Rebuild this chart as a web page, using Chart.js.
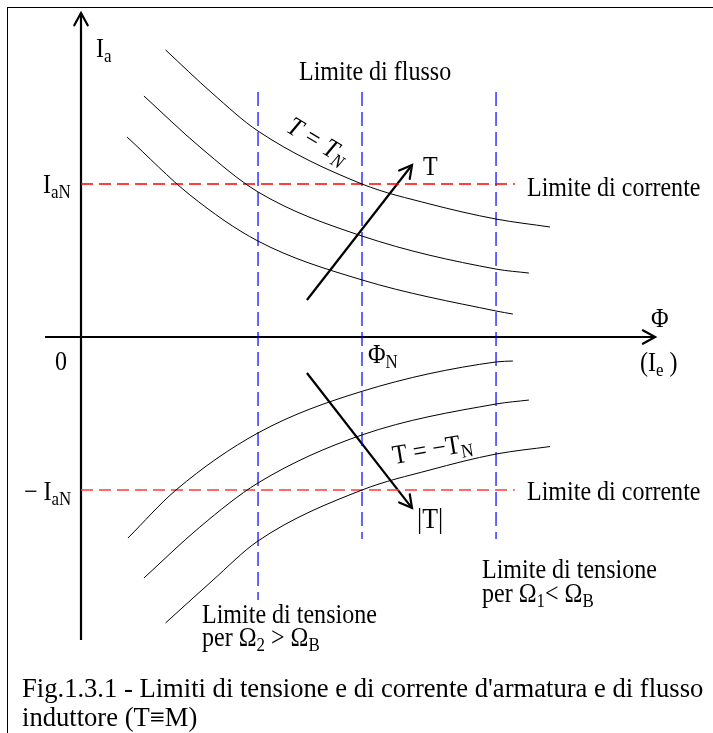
<!DOCTYPE html>
<html>
<head>
<meta charset="utf-8">
<title>Limiti di tensione e di corrente</title>
<script src="https://cdn.jsdelivr.net/npm/chart.js@4.4.1/dist/chart.umd.min.js"></script>
<style>
  html, body { margin: 0; padding: 0; background: #fff; }
  #wrap { position: relative; width: 713px; height: 733px; overflow: hidden; }
  #frame { position: absolute; left: 7px; top: 7px; width: 760px; height: 760px;
           border-left: 1px solid #000; border-top: 1px solid #000; }
  #chart { position: absolute; left: 0; top: 0; }
  #caption { position: absolute; left: 22px; top: 674px; font: 27px "Liberation Serif", serif;
             line-height: 29px; color: #000; white-space: nowrap;
             transform: scaleX(0.985); transform-origin: 0 0; }
</style>
</head>
<body>
<div id="wrap">
  <div id="frame"></div>
  <canvas id="chart" width="713" height="733"></canvas>
  <div id="caption">Fig.1.3.1 - Limiti di tensione e di corrente d'armatura e di flusso<br>induttore (T&#8801;M)</div>
</div>
<script>
// Per-unit quantities: flux Φ/Φ_N on x, armature current I_a/I_aN on y

// constant torque curves, motoring side (top one is T = T_N)
const tnPhi   = [0.301, 0.466, 0.630, 1.000, 1.242, 1.477, 1.669];
const tnIa    = [1.876, 1.595, 1.346, 1.000, 0.869, 0.771, 0.719];
const t2Phi   = [0.224, 0.423, 0.630, 1.000, 1.477, 1.594];
const t2Ia    = [1.575, 1.242, 0.948, 0.660, 0.444, 0.418];
const t3Phi   = [0.164, 0.388, 0.630, 1.000, 1.477, 1.537];
const t3Ia    = [1.307, 0.928, 0.627, 0.373, 0.170, 0.150];

// constant torque curves, braking side (bottom one is T = -T_N)
const b3Phi   = [0.167, 0.338, 0.630, 1.000, 1.477, 1.537];
const b3Ia    = [-1.314, -1.000, -0.627, -0.355, -0.163, -0.157];
const b2Phi   = [0.224, 0.423, 0.630, 1.000, 1.477, 1.594];
const b2Ia    = [-1.575, -1.242, -0.954, -0.640, -0.438, -0.412];
const bnPhi   = [0.301, 0.466, 0.630, 1.000, 1.242, 1.477, 1.669];
const bnIa    = [-1.869, -1.595, -1.333, -1.000, -0.869, -0.765, -0.716];

// current limits ±I_aN
const currentLimits = [1, -1];
const currentLimitPhi = [0, 1.544];

// vertical limits: Ω2 > ΩB, flux limit Φ_N, Ω1 < ΩB
const voltageLimitPhi = [0.630, 1.000, 1.477];
const voltageLimitTop = [1.601, 1.601, 1.601];
const voltageLimitBottom = [-1.719, -1.320, -1.320];

// axes extents
const axisPhi = [-0.128, 2.043];
const axisIa = [-1.980, 2.118];

// torque direction arrows [from, to]
const arrowUpPhi = [0.804, 1.178];
const arrowUpIa = [0.242, 1.124];
const arrowDownPhi = [0.804, 1.178];
const arrowDownIa = [-0.235, -1.118];

const SQUEEZE = 0.89;
const BASE = 27;
const SUB = 19;

const pts = (xs, ys) => xs.map((x, i) => ({ x: x, y: ys[i] }));

function curve(xs, ys) {
    return {
        data: pts(xs, ys), showLine: true, borderColor: '#000', borderWidth: 1,
        pointRadius: 0, cubicInterpolationMode: 'monotone', fill: false
    };
}

function straight(data, color, width, dash, arrow) {
    return {
        data: data, showLine: true, borderColor: color, borderWidth: width,
        borderDash: dash || [], pointRadius: 0, tension: 0, fill: false,
        arrowHead: !!arrow
    };
}

const datasets = [];
[[tnPhi, tnIa], [t2Phi, t2Ia], [t3Phi, t3Ia], [b3Phi, b3Ia], [b2Phi, b2Ia], [bnPhi, bnIa]]
    .forEach(c => datasets.push(curve(c[0], c[1])));

currentLimits.forEach((ia, i) => {
    datasets.push(straight(currentLimitPhi.map(p => ({ x: p, y: ia })),
        i === 0 ? '#ff0000' : '#ff3a3a', 1.4, [12, 6]));
});

voltageLimitPhi.forEach((p, i) => {
    datasets.push(straight([{ x: p, y: voltageLimitTop[i] }, { x: p, y: voltageLimitBottom[i] }],
        '#0000ff', 1.2, [14, 6]));
});

datasets.push(straight([{ x: axisPhi[0], y: 0 }, { x: axisPhi[1], y: 0 }], '#000', 2.2, null, true));
datasets.push(straight([{ x: 0, y: axisIa[0] }, { x: 0, y: axisIa[1] }], '#000', 2.2, null, true));
datasets.push(straight(pts(arrowUpPhi, arrowUpIa), '#000', 2.2, null, true));
datasets.push(straight(pts(arrowDownPhi, arrowDownIa), '#000', 2.2, null, true));

// open V arrowheads at the end of flagged lines
const arrowHeads = {
    id: 'arrowHeads',
    afterDatasetsDraw(chart) {
        const ctx = chart.ctx;
        chart.data.datasets.forEach((ds, i) => {
            if (!ds.arrowHead) return;
            const els = chart.getDatasetMeta(i).data;
            const a = els[els.length - 2], b = els[els.length - 1];
            const ang = Math.atan2(b.y - a.y, b.x - a.x);
            const len = 14, spread = 0.5;
            ctx.save();
            ctx.strokeStyle = '#000';
            ctx.lineWidth = 2.2;
            ctx.lineCap = 'round';
            ctx.beginPath();
            ctx.moveTo(b.x - len * Math.cos(ang - spread), b.y - len * Math.sin(ang - spread));
            ctx.lineTo(b.x, b.y);
            ctx.lineTo(b.x - len * Math.cos(ang + spread), b.y - len * Math.sin(ang + spread));
            ctx.stroke();
            ctx.restore();
        });
    }
};

// text runs, each {t, sub}; drawn condensed like the printed figure
function drawRuns(ctx, runs, x, y, angle, italic, size) {
    ctx.save();
    ctx.translate(x, y);
    ctx.rotate((angle || 0) * Math.PI / 180);
    ctx.scale(SQUEEZE, 1);
    ctx.fillStyle = '#000';
    ctx.textBaseline = 'alphabetic';
    let cx = 0;
    runs.forEach(r => {
        ctx.font = (italic ? 'italic ' : '') + (r.sub ? SUB : (size || BASE)) + 'px "Liberation Serif", serif';
        ctx.fillText(r.t, cx, r.sub ? 5 : 0);
        cx += ctx.measureText(r.t).width;
    });
    ctx.restore();
}

const plain = t => [{ t: t }];

const figureLabels = {
    id: 'figureLabels',
    afterDraw(chart) {
        const ctx = chart.ctx;
        const X = v => chart.scales.x.getPixelForValue(v);
        const Y = v => chart.scales.y.getPixelForValue(v);

        drawRuns(ctx, [{ t: 'I' }, { t: 'a', sub: true }], X(0) + 15, 57);
        drawRuns(ctx, [{ t: 'I' }, { t: 'aN', sub: true }], X(0) - 38, Y(1) + 9);
        drawRuns(ctx, [{ t: '\u2212 I' }, { t: 'aN', sub: true }], X(0) - 57, Y(-1) + 10);
        drawRuns(ctx, plain('0'), X(0) - 26, Y(0) + 33);
        drawRuns(ctx, [{ t: '\u03A6' }, { t: 'N', sub: true }], X(1) + 6, Y(0) + 26);
        drawRuns(ctx, plain('\u03A6'), X(axisPhi[1]) - 4, Y(0) - 10);
        drawRuns(ctx, [{ t: '(I' }, { t: 'e', sub: true }, { t: ' )' }], X(axisPhi[1]) - 15, Y(0) + 34);

        drawRuns(ctx, plain('Limite di flusso'), 299, 80);
        drawRuns(ctx, plain('Limite di corrente'), 527, Y(1) + 12);
        drawRuns(ctx, plain('Limite di corrente'), 527, Y(-1) + 10);

        drawRuns(ctx, plain('T'), 423, 175);
        drawRuns(ctx, plain('|T|'), 417, 528, 0, false, 29);
        drawRuns(ctx, [{ t: 'T = T' }, { t: 'N', sub: true }], 285, 131, 31, true);
        drawRuns(ctx, [{ t: 'T = \u2212T' }, { t: 'N', sub: true }], 394, 464, -9.5);

        drawRuns(ctx, plain('Limite di tensione'), 482, 578);
        drawRuns(ctx, [{ t: 'per \u03A9' }, { t: '1', sub: true }, { t: '< \u03A9' }, { t: 'B', sub: true }], 482, 602);
        drawRuns(ctx, plain('Limite di tensione'), 202, 623);
        drawRuns(ctx, [{ t: 'per \u03A9' }, { t: '2', sub: true }, { t: ' > \u03A9' }, { t: 'B', sub: true }], 202, 646);
    }
};

new Chart(document.getElementById('chart'), {
    type: 'scatter',
    data: { datasets: datasets },
    options: {
        responsive: false,
        animation: false,
        events: [],
        layout: { padding: 0 },
        clip: false,
        plugins: { legend: { display: false }, tooltip: { enabled: false } },
        scales: {
            // chart area fills the whole canvas: origin at (81, 337), Φ_N -> 281 px, I_aN -> 153 px
            x: { type: 'linear', display: false, min: -81 / 281, max: 632 / 281 },
            y: { type: 'linear', display: false, min: -396 / 153, max: 337 / 153 }
        }
    },
    plugins: [arrowHeads, figureLabels]
});
</script>
</body>
</html>
